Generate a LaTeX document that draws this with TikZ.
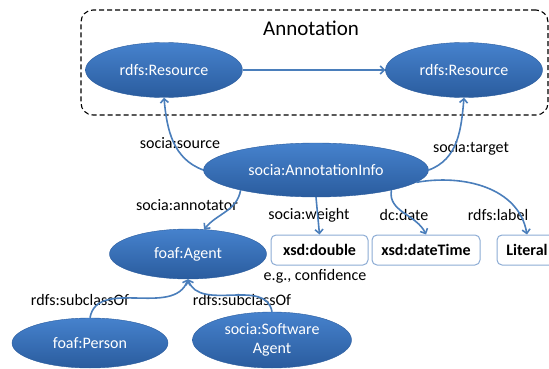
\documentclass[tikz,border=0pt]{standalone}
\usepackage{fontspec}
\setmainfont{Carlito}
\usetikzlibrary{
    shapes.geometric,
    arrows.meta,
    positioning
}
\definecolor{ellblue}{RGB}{70, 130, 205}
\definecolor{elldark}{RGB}{42, 92, 158}
\definecolor{linkblue}{RGB}{74, 126, 187}
\definecolor{boxedge}{RGB}{140, 172, 212}

\begin{document}
\begin{tikzpicture}[
        x=1pt, y=-1pt,
        font=\fontsize{16}{19.5}\selectfont,
        cls/.style={ellipse, inner sep=0pt, top color=ellblue, bottom color=elldark, draw=elldark, line width=0.4pt, text=white, align=center},
        litbox/.style={rectangle, draw=boxedge, rounded corners=5pt, line width=1pt, fill=white, minimum height=30pt, font=\fontsize{16}{19.5}\selectfont\bfseries},
        frame/.style={rectangle, draw, dashed, dash pattern=on 5pt off 3pt, line width=1.1pt, rounded corners=12pt},
        prop/.style={inner sep=0pt},
        arrow/.style={-{Straight Barb[length=4pt,width=8pt]}, line width=1.6pt, draw=linkblue}
    ]
        \useasboundingbox (0,0) rectangle (549,369);
        \clip (0,0) rectangle (549,369);

        % Annotation frame
        \node[frame, minimum width=467pt, minimum height=105pt] (annot) at (314.5,62.5) {};
        \node[prop, font=\fontsize{21}{25}\selectfont] (annotlbl) at (311,28) {Annotation};

        % Row 1: resources
        \node[cls, minimum width=157pt, minimum height=55pt] (src) at (164,70) {rdfs:Resource};
        \node[cls, minimum width=157pt, minimum height=55pt] (tgt) at (464,70) {rdfs:Resource};

        % Row 2: annotation info
        \node[cls, minimum width=225pt, minimum height=54pt] (info) at (316,170) {socia:AnnotationInfo};

        % Row 3: agent and literals
        \node[cls, minimum width=157pt, minimum height=50pt] (agent) at (188,254) {foaf:Agent};
        \node[litbox, minimum width=97pt] (dbl) at (319.5,250) {xsd:double};
        \node[litbox, minimum width=108pt] (dtime) at (426,250) {xsd:dateTime};
        \node[litbox, minimum width=60pt] (literal) at (527,250) {Literal};
        \node[prop] (conf) at (315,276) {e.g., confidence};

        % Row 4: agent kinds
        \node[cls, minimum width=156pt, minimum height=50pt] (person) at (90,343) {foaf:Person};
        \node[cls, minimum width=159pt, minimum height=56pt] (soft) at (272,340) {socia:Software\\Agent};

        % Property labels
        \node[prop] (lsrc) at (180,143) {socia:source};
        \node[prop] (ltgt) at (471,148) {socia:target};
        \node[prop] (lann) at (187,205) {socia:annotator};
        \node[prop] (lwgt) at (309,215) {socia:weight};
        \node[prop] (ldate) at (404,215) {dc:date};
        \node[prop] (llbl) at (498,215) {rdfs:label};
        \node[prop] (lsub1) at (80,300) {rdfs:subclassOf};
        \node[prop] (lsub2) at (242,300) {rdfs:subclassOf};

        % Arrows
        \draw[arrow] (src) -- (tgt);
        \draw[arrow] (info.west) to[out=160, in=-85] (src.south);
        \draw[arrow] (info.east) to[out=20, in=-95] (tgt.south);
        \draw[arrow] (info.195) to[out=-100, in=50] (agent.57);
        \draw[arrow] (info.south) -- (dbl.north);
        \draw[arrow] (info.-15) to[out=-100, in=115] (dtime.north);
        \draw[arrow] (info.-7) to[out=10, in=100] (literal.north);

        % Subclass arrows
        \draw[arrow] (person.north) to[out=80, in=-110] (agent.south);
        \draw[arrow] (soft.north) to[out=100, in=-70] (agent.south);
    \end{tikzpicture}
\end{document}
